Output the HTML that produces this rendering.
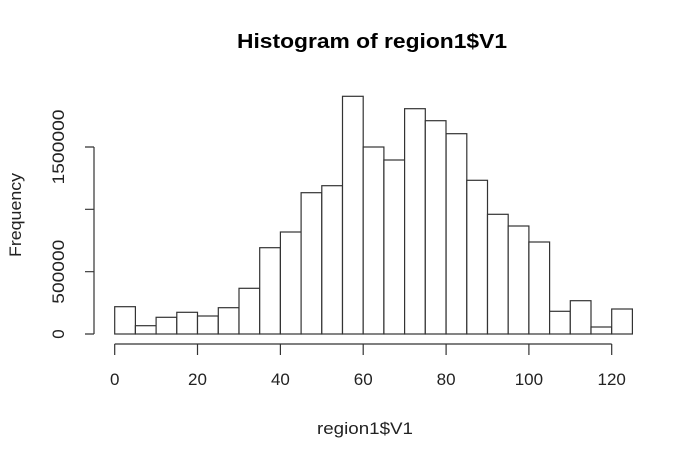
<!DOCTYPE html>
<html><head><meta charset="utf-8"><style>html,body{margin:0;padding:0;background:#fff}svg{display:block}</style></head><body>
<svg width="681" height="451" xmlns="http://www.w3.org/2000/svg" font-family="Liberation Sans, Arial, sans-serif">
<text x="372" y="48" font-size="20" font-weight="bold" text-anchor="middle" fill="#000" textLength="270" lengthAdjust="spacingAndGlyphs">Histogram of region1$V1</text>
<g fill="#fff" stroke="#333" stroke-width="1.2">
<rect x="114.7" y="306.7" width="20.7" height="27.3"/>
<rect x="135.4" y="325.7" width="20.7" height="8.3"/>
<rect x="156.1" y="317.3" width="20.7" height="16.7"/>
<rect x="176.8" y="312.3" width="20.7" height="21.7"/>
<rect x="197.5" y="316" width="20.7" height="18"/>
<rect x="218.3" y="307.7" width="20.7" height="26.3"/>
<rect x="239.0" y="288.3" width="20.7" height="45.7"/>
<rect x="259.7" y="247.7" width="20.7" height="86.3"/>
<rect x="280.4" y="232" width="20.7" height="102"/>
<rect x="301.1" y="192.7" width="20.7" height="141.3"/>
<rect x="321.8" y="185.7" width="20.7" height="148.3"/>
<rect x="342.5" y="96.3" width="20.7" height="237.7"/>
<rect x="363.2" y="147" width="20.7" height="187"/>
<rect x="383.9" y="160" width="20.7" height="174"/>
<rect x="404.6" y="108.7" width="20.7" height="225.3"/>
<rect x="425.3" y="120.7" width="20.7" height="213.3"/>
<rect x="446.1" y="133.7" width="20.7" height="200.3"/>
<rect x="466.8" y="180.3" width="20.7" height="153.7"/>
<rect x="487.5" y="214.3" width="20.7" height="119.7"/>
<rect x="508.2" y="226" width="20.7" height="108"/>
<rect x="528.9" y="242" width="20.7" height="92"/>
<rect x="549.6" y="311.3" width="20.7" height="22.7"/>
<rect x="570.3" y="300.7" width="20.7" height="33.3"/>
<rect x="591.0" y="327" width="20.7" height="7"/>
<rect x="611.7" y="309" width="20.7" height="25"/>
</g>
<g stroke="#333" stroke-width="1.2" fill="none">
<path d="M114.7 344H611.7"/>
<path d="M114.7 344v11M197.5 344v11M280.4 344v11M363.2 344v11M446.1 344v11M528.9 344v11M611.7 344v11"/>
<path d="M94 334V147"/>
<path d="M94 334h-9M94 271.7h-9M94 209.3h-9M94 147h-9"/>
</g>
<g font-size="17" text-anchor="middle" fill="#222">
<text x="114.7" y="385">0</text><text x="197.5" y="385">20</text><text x="280.4" y="385">40</text><text x="363.2" y="385">60</text><text x="446.1" y="385">80</text><text x="528.9" y="385">100</text><text x="611.7" y="385">120</text>
<text x="365" y="434" textLength="96" lengthAdjust="spacingAndGlyphs">region1$V1</text>
<text transform="translate(64,334) rotate(-90)">0</text>
<text transform="translate(64,271.7) rotate(-90)" textLength="64" lengthAdjust="spacingAndGlyphs">500000</text>
<text transform="translate(64,147) rotate(-90)" textLength="75" lengthAdjust="spacingAndGlyphs">1500000</text>
<text transform="translate(21,215) rotate(-90)" textLength="84" lengthAdjust="spacingAndGlyphs">Frequency</text>
</g>
</svg>
</body></html>
